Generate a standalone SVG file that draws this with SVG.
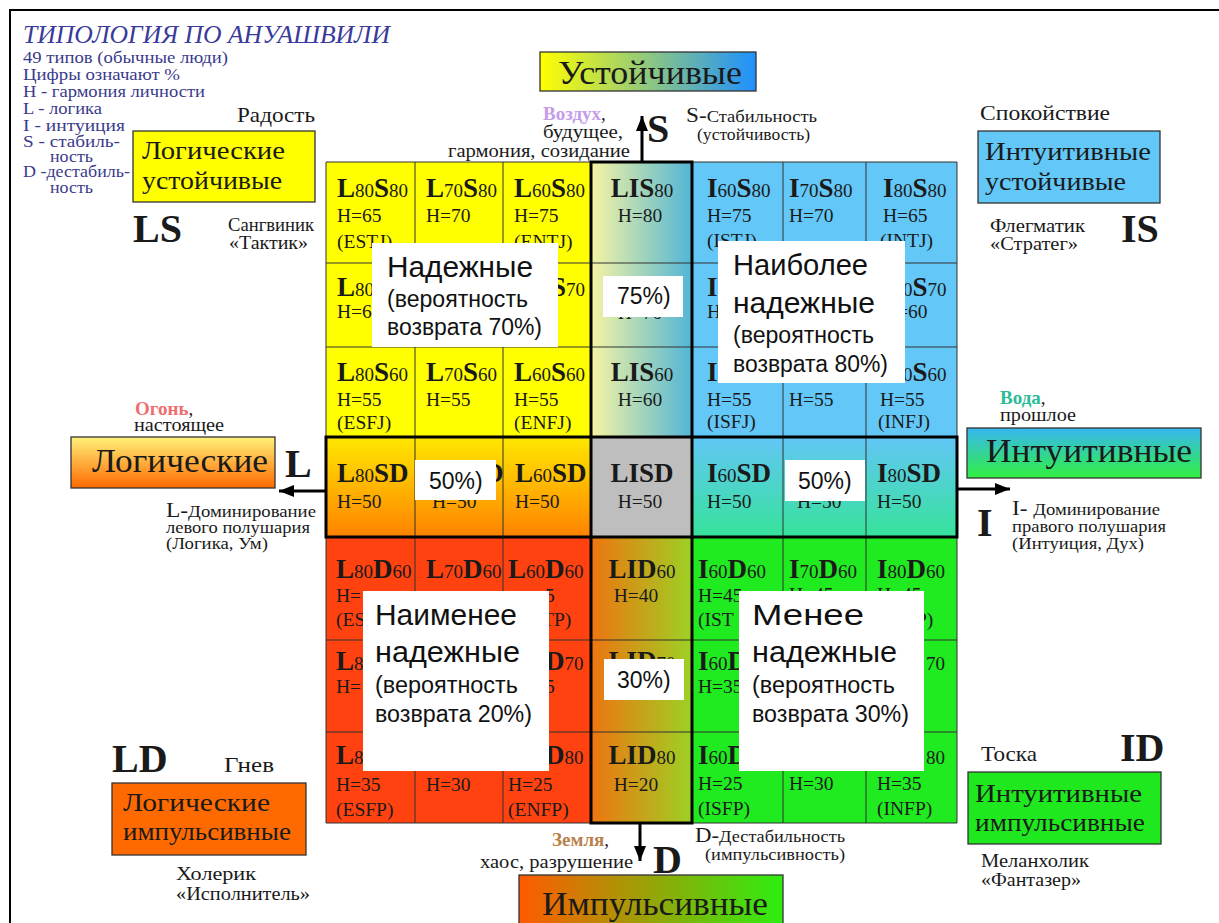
<svg xmlns="http://www.w3.org/2000/svg" width="1219" height="923" viewBox="0 0 1219 923">
<defs>
<linearGradient id="gLIS" x1="0" y1="0" x2="1" y2="0"><stop offset="0" stop-color="#F6F4A2"/><stop offset="1" stop-color="#52B5D6"/></linearGradient>
<linearGradient id="gLID" x1="0" y1="0" x2="1" y2="0"><stop offset="0" stop-color="#EE7510"/><stop offset="1" stop-color="#9DD124"/></linearGradient>
<linearGradient id="gLSD" x1="0" y1="0" x2="0" y2="1"><stop offset="0" stop-color="#FFE800"/><stop offset="1" stop-color="#FF8200"/></linearGradient>
<linearGradient id="gISD" x1="0" y1="0" x2="0" y2="1"><stop offset="0" stop-color="#62C6F6"/><stop offset="1" stop-color="#36E39A"/></linearGradient>
<linearGradient id="gLog" x1="0" y1="0" x2="0" y2="1"><stop offset="0" stop-color="#FFF27A"/><stop offset="1" stop-color="#FF6A00"/></linearGradient>
<linearGradient id="gInt" x1="0" y1="0" x2="0" y2="1"><stop offset="0" stop-color="#37B7F2"/><stop offset="1" stop-color="#30F040"/></linearGradient>
<linearGradient id="gUst" x1="0" y1="0" x2="1" y2="0"><stop offset="0" stop-color="#FFFF00"/><stop offset="1" stop-color="#1E90FF"/></linearGradient>
<linearGradient id="gImp" x1="0" y1="0" x2="1" y2="0"><stop offset="0" stop-color="#FF5A00"/><stop offset="1" stop-color="#2EEE10"/></linearGradient>
<marker id="ah" markerWidth="5" markerHeight="4" refX="5" refY="2" orient="auto" markerUnits="strokeWidth"><path d="M0,0 L5,2 L0,4 z" fill="#000"/></marker>
<style>
.sf{font-family:"Liberation Serif","DejaVu Serif",serif;fill:#1a1a1a}
.ss{font-family:"Liberation Sans",Arial,sans-serif;fill:#111}
.c{font-family:"Liberation Serif","DejaVu Serif",serif;fill:#1a1a1a;font-size:19.5px}
.B{font-weight:bold;font-size:27px}
.d{font-size:19px}
.m{text-anchor:middle}
.gl{stroke:#333;stroke-width:1;fill:none}
.thick{stroke:#000;stroke-width:3;fill:none}
.box{stroke:#333;stroke-width:1.3}
.wb{fill:#fff}
.big{font-weight:bold;font-size:40px}
.lg{font-family:"Liberation Serif","DejaVu Serif",serif;fill:#3a3a8c;font-size:17px}
.title{font-family:"Liberation Serif","DejaVu Serif",serif;fill:#3a3a9a;font-size:26px;font-style:italic}
.w29{font-size:30px}
.w23{font-size:23px}
.ax{stroke:#000;stroke-width:3;fill:none;marker-end:url(#ah)}
</style>
</defs>
<rect width="1219" height="923" fill="#fff"/>
<path d="M10,923 L10,10 L1219,10" fill="none" stroke="#000" stroke-width="2"/>

<g id="legend">
<text class="title" x="23" y="43" textLength="367" lengthAdjust="spacingAndGlyphs">ТИПОЛОГИЯ ПО АНУАШВИЛИ</text>
<text class="lg" x="23" y="63" textLength="205" lengthAdjust="spacingAndGlyphs">49 типов (обычные люди)</text>
<text class="lg" x="23" y="80" textLength="157" lengthAdjust="spacingAndGlyphs">Цифры означают %</text>
<text class="lg" x="23" y="97" textLength="182" lengthAdjust="spacingAndGlyphs">H - гармония личности</text>
<text class="lg" x="23" y="114" textLength="79" lengthAdjust="spacingAndGlyphs">L - логика</text>
<text class="lg" x="23" y="131" textLength="102" lengthAdjust="spacingAndGlyphs">I -  интуиция</text>
<text class="lg" x="23" y="147" textLength="97" lengthAdjust="spacingAndGlyphs">S - стабиль-</text>
<text class="lg" x="50" y="162" textLength="43" lengthAdjust="spacingAndGlyphs">ность</text>
<text class="lg" x="23" y="177" textLength="107" lengthAdjust="spacingAndGlyphs">D -дестабиль-</text>
<text class="lg" x="50" y="193" textLength="43" lengthAdjust="spacingAndGlyphs">ность</text>
</g>

<g id="grid-fills">
<rect x="326" y="162" width="265" height="275" fill="#FFFF00"/>
<rect x="591" y="162" width="101" height="275" fill="url(#gLIS)"/>
<rect x="692" y="162" width="265" height="275" fill="#63C7F7"/>
<rect x="326" y="437" width="265" height="100" fill="url(#gLSD)"/>
<rect x="591" y="437" width="101" height="100" fill="#BEBEBE"/>
<rect x="692" y="437" width="265" height="100" fill="url(#gISD)"/>
<rect x="326" y="537" width="265" height="286" fill="#FF4210"/>
<rect x="591" y="537" width="101" height="286" fill="url(#gLID)"/>
<rect x="692" y="537" width="265" height="286" fill="#20EA20"/>
<path class="gl" d="M326,162 H957 V823 H326 Z M415,162 V823 M503,162 V823 M783,162 V823 M866,162 V823 M326,263 H957 M326,347 H957 M326,640 H957 M326,732 H957"/>
<rect class="thick" x="591" y="162" width="101" height="661"/>
<rect class="thick" x="326" y="437" width="631" height="100"/>
</g>

<g id="cells-LS">
<text class="c" x="337" y="197"><tspan class="B">L</tspan><tspan class="d">80</tspan><tspan class="B">S</tspan><tspan class="d">80</tspan></text>
<text class="c" x="337" y="222">H=65</text><text class="c" x="337" y="248">(ESTJ)</text>
<text class="c" x="426" y="197"><tspan class="B">L</tspan><tspan class="d">70</tspan><tspan class="B">S</tspan><tspan class="d">80</tspan></text>
<text class="c" x="426" y="222">H=70</text>
<text class="c" x="514" y="197"><tspan class="B">L</tspan><tspan class="d">60</tspan><tspan class="B">S</tspan><tspan class="d">80</tspan></text>
<text class="c" x="514" y="222">H=75</text><text class="c" x="514" y="248">(ENTJ)</text>
<text class="c" x="337" y="296"><tspan class="B">L</tspan><tspan class="d">80</tspan></text>
<text class="c" x="337" y="318">H=60</text>
<text class="c" x="551" y="296"><tspan class="B">S</tspan><tspan class="d">70</tspan></text>
<text class="c" x="337" y="381"><tspan class="B">L</tspan><tspan class="d">80</tspan><tspan class="B">S</tspan><tspan class="d">60</tspan></text>
<text class="c" x="337" y="406">H=55</text><text class="c" x="337" y="429">(ESFJ)</text>
<text class="c" x="426" y="381"><tspan class="B">L</tspan><tspan class="d">70</tspan><tspan class="B">S</tspan><tspan class="d">60</tspan></text>
<text class="c" x="426" y="406">H=55</text>
<text class="c" x="514" y="381"><tspan class="B">L</tspan><tspan class="d">60</tspan><tspan class="B">S</tspan><tspan class="d">60</tspan></text>
<text class="c" x="514" y="406">H=55</text><text class="c" x="514" y="429">(ENFJ)</text>
</g>

<g id="cells-LIS">
<text class="c m" x="642" y="197"><tspan class="B">LIS</tspan><tspan class="d">80</tspan></text>
<text class="c m" x="640" y="222">H=80</text>
<text class="c m" x="640" y="319">H=70</text>
<text class="c m" x="642" y="381"><tspan class="B">LIS</tspan><tspan class="d">60</tspan></text>
<text class="c m" x="640" y="406">H=60</text>
</g>

<g id="cells-IS">
<text class="c" x="707" y="197"><tspan class="B">I</tspan><tspan class="d">60</tspan><tspan class="B">S</tspan><tspan class="d">80</tspan></text>
<text class="c" x="707" y="222">H=75</text><text class="c" x="707" y="247">(ISTJ)</text>
<text class="c" x="789" y="197"><tspan class="B">I</tspan><tspan class="d">70</tspan><tspan class="B">S</tspan><tspan class="d">80</tspan></text>
<text class="c" x="789" y="222">H=70</text>
<text class="c" x="883" y="197"><tspan class="B">I</tspan><tspan class="d">80</tspan><tspan class="B">S</tspan><tspan class="d">80</tspan></text>
<text class="c" x="883" y="222">H=65</text><text class="c" x="880" y="247">(INTJ)</text>
<text class="c" x="707" y="296"><tspan class="B">I</tspan></text>
<text class="c" x="707" y="318">H</text>
<text class="c" x="903" y="296"><tspan class="d">0</tspan><tspan class="B">S</tspan><tspan class="d">70</tspan></text>
<text class="c" x="897" y="318">=60</text>
<text class="c" x="707" y="381"><tspan class="B">I</tspan></text>
<text class="c" x="707" y="406">H=55</text><text class="c" x="707" y="428">(ISFJ)</text>
<text class="c" x="789" y="406">H=55</text>
<text class="c" x="903" y="381"><tspan class="d">0</tspan><tspan class="B">S</tspan><tspan class="d">60</tspan></text>
<text class="c" x="880" y="406">H=55</text><text class="c" x="878" y="428">(INFJ)</text>
</g>

<g id="cells-SD">
<text class="c" x="337" y="482"><tspan class="B">L</tspan><tspan class="d">80</tspan><tspan class="B">SD</tspan></text>
<text class="c" x="337" y="508">H=50</text>
<text class="c" x="484" y="482"><tspan class="B">D</tspan></text>
<text class="c" x="432" y="508">H=50</text>
<text class="c" x="515" y="482"><tspan class="B">L</tspan><tspan class="d">60</tspan><tspan class="B">SD</tspan></text>
<text class="c" x="515" y="508">H=50</text>
<text class="c m" x="642" y="482"><tspan class="B">LISD</tspan></text>
<text class="c m" x="640" y="508">H=50</text>
<text class="c" x="707" y="482"><tspan class="B">I</tspan><tspan class="d">60</tspan><tspan class="B">SD</tspan></text>
<text class="c" x="707" y="508">H=50</text>
<text class="c" x="797" y="508">H=50</text>
<text class="c" x="877" y="482"><tspan class="B">I</tspan><tspan class="d">80</tspan><tspan class="B">SD</tspan></text>
<text class="c" x="877" y="508">H=50</text>
</g>

<g id="cells-LD">
<text class="c" x="336" y="578"><tspan class="B">L</tspan><tspan class="d">80</tspan><tspan class="B">D</tspan><tspan class="d">60</tspan></text>
<text class="c" x="336" y="602">H=</text><text class="c" x="336" y="626">(ES</text>
<text class="c" x="426" y="578"><tspan class="B">L</tspan><tspan class="d">70</tspan><tspan class="B">D</tspan><tspan class="d">60</tspan></text>
<text class="c" x="508" y="578"><tspan class="B">L</tspan><tspan class="d">60</tspan><tspan class="B">D</tspan><tspan class="d">60</tspan></text>
<text class="c" x="545" y="602">5</text><text class="c" x="542" y="626">TP)</text>
<text class="c" x="336" y="670"><tspan class="B">L</tspan><tspan class="d">8</tspan></text>
<text class="c" x="336" y="693">H=</text>
<text class="c" x="545" y="670"><tspan class="B">D</tspan><tspan class="d">70</tspan></text>
<text class="c" x="545" y="693">5</text>
<text class="c" x="336" y="764"><tspan class="B">L</tspan><tspan class="d">8</tspan></text>
<text class="c" x="336" y="791">H=35</text><text class="c" x="336" y="816">(ESFP)</text>
<text class="c" x="426" y="791">H=30</text>
<text class="c" x="545" y="764"><tspan class="B">D</tspan><tspan class="d">80</tspan></text>
<text class="c" x="508" y="791">H=25</text><text class="c" x="508" y="816">(ENFP)</text>
</g>

<g id="cells-LID">
<text class="c m" x="642" y="578"><tspan class="B">LID</tspan><tspan class="d">60</tspan></text>
<text class="c m" x="636" y="602">H=40</text>
<text class="c m" x="642" y="670"><tspan class="B">LID</tspan><tspan class="d">70</tspan></text>
<text class="c m" x="642" y="764"><tspan class="B">LID</tspan><tspan class="d">80</tspan></text>
<text class="c m" x="636" y="791">H=20</text>
</g>

<g id="cells-ID">
<text class="c" x="698" y="578"><tspan class="B">I</tspan><tspan class="d">60</tspan><tspan class="B">D</tspan><tspan class="d">60</tspan></text>
<text class="c" x="698" y="602">H=45</text><text class="c" x="698" y="626">(IST</text>
<text class="c" x="789" y="578"><tspan class="B">I</tspan><tspan class="d">70</tspan><tspan class="B">D</tspan><tspan class="d">60</tspan></text>
<text class="c" x="789" y="601">H=45</text>
<text class="c" x="877" y="578"><tspan class="B">I</tspan><tspan class="d">80</tspan><tspan class="B">D</tspan><tspan class="d">60</tspan></text>
<text class="c" x="877" y="601">H=45</text><text class="c" x="877" y="626">(INTP)</text>
<text class="c" x="698" y="670"><tspan class="B">I</tspan><tspan class="d">60</tspan><tspan class="B">D</tspan></text>
<text class="c" x="698" y="693">H=35</text>
<text class="c" x="926" y="670"><tspan class="d">70</tspan></text>
<text class="c" x="698" y="764"><tspan class="B">I</tspan><tspan class="d">60</tspan><tspan class="B">D</tspan></text>
<text class="c" x="698" y="790">H=25</text><text class="c" x="698" y="815">(ISFP)</text>
<text class="c" x="789" y="790">H=30</text>
<text class="c" x="926" y="764"><tspan class="d">80</tspan></text>
<text class="c" x="877" y="790">H=35</text><text class="c" x="877" y="815">(INFP)</text>
</g>

<g id="note-70">
<rect class="wb" x="372" y="243" width="186" height="104"/>
<text class="ss w29" x="387" y="277" textLength="146" lengthAdjust="spacingAndGlyphs">Надежные</text>
<text class="ss w23" x="387" y="307" textLength="141" lengthAdjust="spacingAndGlyphs">(вероятность</text>
<text class="ss w23" x="387" y="335" textLength="155" lengthAdjust="spacingAndGlyphs">возврата 70%)</text>
</g>
<g id="note-75">
<rect class="wb" x="603" y="276" width="80" height="41"/>
<text class="ss w23" x="617" y="304">75%)</text>
</g>
<g id="note-80">
<rect class="wb" x="718" y="241" width="187" height="142"/>
<text class="ss w29" x="733" y="275" textLength="135" lengthAdjust="spacingAndGlyphs">Наиболее</text>
<text class="ss w29" x="733" y="313" textLength="142" lengthAdjust="spacingAndGlyphs">надежные</text>
<text class="ss w23" x="733" y="343" textLength="141" lengthAdjust="spacingAndGlyphs">(вероятность</text>
<text class="ss w23" x="733" y="372" textLength="155" lengthAdjust="spacingAndGlyphs">возврата 80%)</text>
</g>
<g id="note-50-left">
<rect class="wb" x="415" y="460" width="81" height="40"/>
<text class="ss w23" x="429" y="489">50%)</text>
</g>
<g id="note-50-right">
<rect class="wb" x="785" y="460" width="80" height="41"/>
<text class="ss w23" x="798" y="489">50%)</text>
</g>
<g id="note-20">
<rect class="wb" x="363" y="591" width="186" height="180"/>
<text class="ss w29" x="375" y="625" textLength="142" lengthAdjust="spacingAndGlyphs">Наименее</text>
<text class="ss w29" x="375" y="662" textLength="145" lengthAdjust="spacingAndGlyphs">надежные</text>
<text class="ss w23" x="375" y="693" textLength="143" lengthAdjust="spacingAndGlyphs">(вероятность</text>
<text class="ss w23" x="375" y="722" textLength="157" lengthAdjust="spacingAndGlyphs">возврата 20%)</text>
</g>
<g id="note-30-mid">
<rect class="wb" x="604" y="659" width="80" height="41"/>
<text class="ss w23" x="617" y="688">30%)</text>
</g>
<g id="note-30">
<rect class="wb" x="739" y="591" width="185" height="180"/>
<text class="ss w29" x="752" y="625" textLength="112" lengthAdjust="spacingAndGlyphs">Менее</text>
<text class="ss w29" x="752" y="662" textLength="145" lengthAdjust="spacingAndGlyphs">надежные</text>
<text class="ss w23" x="752" y="693" textLength="143" lengthAdjust="spacingAndGlyphs">(вероятность</text>
<text class="ss w23" x="752" y="722" textLength="157" lengthAdjust="spacingAndGlyphs">возврата 30%)</text>
</g>

<g id="connectors">
<line class="ax" x1="642" y1="162" x2="642" y2="116"/>
<line class="ax" x1="326" y1="491" x2="279" y2="491"/>
<line class="ax" x1="957" y1="489" x2="1010" y2="489"/>
<line class="ax" x1="640" y1="823" x2="640" y2="861"/>
</g>

<g id="corner-LS">
<text class="sf" x="237" y="122" font-size="21" textLength="78" lengthAdjust="spacingAndGlyphs">Радость</text>
<rect class="box" x="133" y="131" width="182" height="71" fill="#FFFF00"/>
<text class="sf" x="142" y="159" font-size="25" textLength="143" lengthAdjust="spacingAndGlyphs">Логические</text>
<text class="sf" x="142" y="189" font-size="25" textLength="140" lengthAdjust="spacingAndGlyphs">устойчивые</text>
<text class="sf big" x="133" y="242">LS</text>
<text class="sf" x="228" y="231" font-size="18" textLength="86" lengthAdjust="spacingAndGlyphs">Сангвиник</text>
<text class="sf" x="229" y="249" font-size="18" textLength="79" lengthAdjust="spacingAndGlyphs">«Тактик»</text>
</g>

<g id="corner-IS">
<text class="sf" x="980" y="120" font-size="21" textLength="130" lengthAdjust="spacingAndGlyphs">Спокойствие</text>
<rect class="box" x="978" y="131" width="182" height="72" fill="#63C7F7"/>
<text class="sf" x="985" y="160" font-size="25" textLength="166" lengthAdjust="spacingAndGlyphs">Интуитивные</text>
<text class="sf" x="985" y="190" font-size="25" textLength="141" lengthAdjust="spacingAndGlyphs">устойчивые</text>
<text class="sf big" x="1121" y="242">IS</text>
<text class="sf" x="990" y="232" font-size="18" textLength="95" lengthAdjust="spacingAndGlyphs">Флегматик</text>
<text class="sf" x="990" y="250" font-size="18" textLength="88" lengthAdjust="spacingAndGlyphs">«Стратег»</text>
</g>

<g id="corner-LD">
<text class="sf big" x="112" y="772">LD</text>
<text class="sf" x="224" y="772" font-size="21" textLength="50" lengthAdjust="spacingAndGlyphs">Гнев</text>
<rect class="box" x="112" y="783" width="194" height="72" fill="#FF6A00"/>
<text class="sf" x="123" y="811" font-size="25" textLength="147" lengthAdjust="spacingAndGlyphs">Логические</text>
<text class="sf" x="123" y="840" font-size="25" textLength="168" lengthAdjust="spacingAndGlyphs">импульсивные</text>
<text class="sf" x="176" y="880" font-size="19" textLength="80" lengthAdjust="spacingAndGlyphs">Холерик</text>
<text class="sf" x="176" y="900" font-size="19" textLength="134" lengthAdjust="spacingAndGlyphs">«Исполнитель»</text>
</g>

<g id="corner-ID">
<text class="sf" x="981" y="761" font-size="21" textLength="56" lengthAdjust="spacingAndGlyphs">Тоска</text>
<text class="sf big" x="1120" y="761">ID</text>
<rect class="box" x="968" y="772" width="193" height="72" fill="#1FE81F"/>
<text class="sf" x="975" y="802" font-size="25" textLength="167" lengthAdjust="spacingAndGlyphs">Интуитивные</text>
<text class="sf" x="975" y="831" font-size="25" textLength="170" lengthAdjust="spacingAndGlyphs">импульсивные</text>
<text class="sf" x="981" y="867" font-size="19" textLength="108" lengthAdjust="spacingAndGlyphs">Меланхолик</text>
<text class="sf" x="981" y="886" font-size="19" textLength="100" lengthAdjust="spacingAndGlyphs">«Фантазер»</text>
</g>

<g id="axis-S">
<rect class="box" x="540" y="52" width="216" height="39" fill="url(#gUst)"/>
<text class="sf" x="558" y="84" font-size="33" textLength="184" lengthAdjust="spacingAndGlyphs">Устойчивые</text>
<text class="sf" x="543" y="120" font-size="19"><tspan font-weight="bold" fill="#C49CE8">Воздух</tspan>,</text>
<text class="sf" x="543" y="138" font-size="18" textLength="80" lengthAdjust="spacingAndGlyphs">будущее,</text>
<text class="sf" x="448" y="157" font-size="18" textLength="182" lengthAdjust="spacingAndGlyphs">гармония, созидание</text>
<text class="sf big" x="647" y="142">S</text>
<text class="sf" x="686" y="122" font-size="16" textLength="131" lengthAdjust="spacingAndGlyphs"><tspan font-size="20">S-</tspan>Стабильность</text>
<text class="sf" x="697" y="140" font-size="16" textLength="113" lengthAdjust="spacingAndGlyphs">(устойчивость)</text>
</g>

<g id="axis-L">
<text class="sf" x="135" y="415" font-size="19"><tspan font-weight="bold" fill="#EE6F6F">Огонь</tspan>,</text>
<text class="sf" x="134" y="431" font-size="18" textLength="90" lengthAdjust="spacingAndGlyphs">настоящее</text>
<rect class="box" x="71" y="437" width="204" height="51" fill="url(#gLog)"/>
<text class="sf" x="92" y="472" font-size="33" textLength="176" lengthAdjust="spacingAndGlyphs">Логические</text>
<text class="sf big" x="285" y="477">L</text>
<text class="sf" x="166" y="517" font-size="16" textLength="150" lengthAdjust="spacingAndGlyphs"><tspan font-size="20">L-</tspan>Доминирование</text>
<text class="sf" x="166" y="533" font-size="16" textLength="144" lengthAdjust="spacingAndGlyphs">левого полушария</text>
<text class="sf" x="166" y="549" font-size="16" textLength="102" lengthAdjust="spacingAndGlyphs">(Логика, Ум)</text>
</g>

<g id="axis-I">
<text class="sf" x="1000" y="404" font-size="19"><tspan font-weight="bold" fill="#2DBB99">Вода</tspan>,</text>
<text class="sf" x="1000" y="421" font-size="18" textLength="76" lengthAdjust="spacingAndGlyphs">прошлое</text>
<rect class="box" x="967" y="428" width="234" height="50" fill="url(#gInt)"/>
<text class="sf" x="986" y="462" font-size="33" textLength="206" lengthAdjust="spacingAndGlyphs">Интуитивные</text>
<text class="sf big" x="977" y="536">I</text>
<text class="sf" x="1012" y="515" font-size="16" textLength="148" lengthAdjust="spacingAndGlyphs"><tspan font-size="20">I- </tspan>Доминирование</text>
<text class="sf" x="1012" y="532" font-size="16" textLength="154" lengthAdjust="spacingAndGlyphs">правого полушария</text>
<text class="sf" x="1012" y="549" font-size="16" textLength="132" lengthAdjust="spacingAndGlyphs">(Интуиция, Дух)</text>
</g>

<g id="axis-D">
<text class="sf" x="552" y="846" font-size="19"><tspan font-weight="bold" fill="#B8804A">Земля</tspan>,</text>
<text class="sf" x="480" y="868" font-size="18" textLength="153" lengthAdjust="spacingAndGlyphs">хаос, разрушение</text>
<text class="sf big" x="653" y="873">D</text>
<text class="sf" x="695" y="842" font-size="16" textLength="150" lengthAdjust="spacingAndGlyphs"><tspan font-size="20">D-</tspan>Дестабильность</text>
<text class="sf" x="705" y="860" font-size="16" textLength="140" lengthAdjust="spacingAndGlyphs">(импульсивность)</text>
<rect class="box" x="519" y="875" width="264" height="60" fill="url(#gImp)"/>
<text class="sf" x="542" y="915" font-size="33" textLength="226" lengthAdjust="spacingAndGlyphs">Импульсивные</text>
</g>
</svg>
